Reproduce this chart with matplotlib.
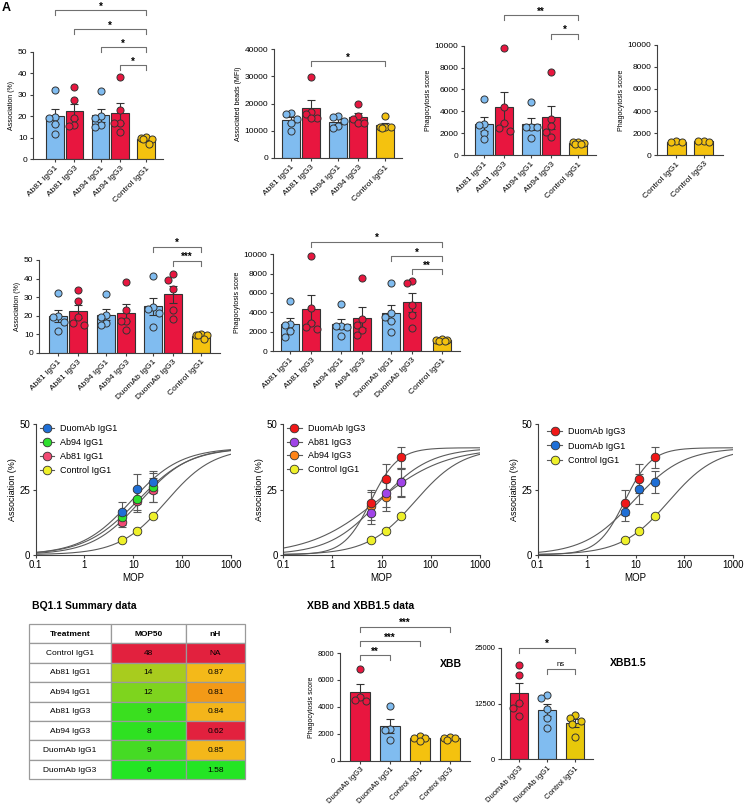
import numpy as np
import matplotlib.pyplot as plt
from matplotlib.patches import Rectangle
from matplotlib.lines import Line2D
from matplotlib.ticker import NullLocator

plt.rcParams['font.family'] = ['Liberation Sans', 'DejaVu Sans']
plt.rcParams['axes.linewidth'] = 0.8

W, H = 744, 806
fig = plt.figure(figsize=(W / 100, H / 100), dpi=100)

BLUE = '#80BCF0'
RED = '#E8163F'
GOLD = '#F4C20F'
EDGE = '#333333'
AXC = '#404040'
BRK = '#707070'

# ---- top row: BQ1.1 bar data (individual donors) ----
top_labels = ['Ab81 IgG1', 'Ab81 IgG3', 'Ab94 IgG1', 'Ab94 IgG3', 'Control IgG1']
top_colors = [BLUE, RED, BLUE, RED, GOLD]
assoc_pts = [[32.3, 19.8, 19.2, 16.4, 11.7],
             [33.6, 27.7, 19.1, 15.8, 15.2],
             [31.7, 20.3, 19.2, 15.9, 14.8],
             [38.4, 23.0, 17.0, 17.0, 12.5],
             [10.2, 9.6, 9.4, 9.3, 7.2]]
beads_pts = [[16500, 16100, 14300, 12800, 10000],
             [29700, 16800, 16000, 14800, 14500],
             [15500, 15000, 13600, 11800, 11000],
             [19900, 15500, 14300, 12800, 12800],
             [15300, 11500, 11400, 11200, 11000]]
phago_pts = [[5150, 2800, 2700, 2050, 1430],
             [9820, 4420, 2900, 2500, 2230],
             [4820, 2600, 2600, 2530, 1520],
             [7560, 3300, 2650, 2130, 1680],
             [1200, 1150, 1100, 1050, 1000]]
ctrl_labels = ['Control IgG1', 'Control IgG3']
ctrl_pts = [[1250, 1200, 1200], [1250, 1250, 1200]]

# ---- second row: with DuomAb ----
row2_labels = ['Ab81 IgG1', 'Ab81 IgG3', 'Ab94 IgG1', 'Ab94 IgG3',
               'DuomAb IgG1', 'DuomAb IgG3', 'Control IgG1']
row2_colors = [BLUE, RED, BLUE, RED, BLUE, RED, GOLD]
duo_assoc_pts = [[41.4, 24.5, 23.7, 21.6, 14.0],
                 [42.4, 39.2, 34.5, 23.0, 18.0]]
duo_phago_pts = [[7070, 3900, 3550, 3100, 2000],
                 [7280, 7070, 4760, 3700, 2350]]

# ---- third row: association vs MOP ----
mop = [6, 12, 25]
duo_g1 = [16.5, 25.1, 27.9]
duo_g1_err = [3.7, 5.8, 4.3]
ab94_g1 = [14.3, 21.3, 25.8]
ab94_g1_err = [3.0, 4.2, 5.5]
ab81_g1 = [12.7, 20.4, 24.9]
ab81_g1_err = [2.2, 4.0, 4.6]
ctrl_g1 = [5.8, 9.2, 14.8]
ctrl_g1_err = [0.5, 0.7, 0.9]
duo_g3 = [20.0, 29.2, 37.3]
duo_g3_err = [4.7, 5.5, 4.1]
ab81_g3 = [16.1, 23.5, 27.8]
ab81_g3_err = [4.5, 5.3, 5.2]
ab94_g3 = [18.7, 22.3, 27.8]
ab94_g3_err = [5.5, 5.5, 5.5]

# ---- summary table ----
table_treat = ['Control IgG1', 'Ab81 IgG1', 'Ab94 IgG1', 'Ab81 IgG3',
               'Ab94 IgG3', 'DuomAb IgG1', 'DuomAb IgG3']
table_mop50 = ['48', '14', '12', '9', '8', '9', '6']
table_nh = ['NA', '0.87', '0.81', '0.84', '0.62', '0.85', '1.58']
mop50_colors = ['#E2213E', '#A8CC1E', '#7ED41E', '#3ADF1F', '#2EE121', '#45DB24', '#24E524']
nh_colors = ['#E2213E', '#F4B919', '#F39A17', '#F4B51A', '#E2213E', '#F4B71A', '#24E524']
fit_top = 41.0
ctrl_fit_nh = 0.9  # slope used for the control curve (NA in table)

# ---- XBB / XBB1.5 ----
xbb_labels = ['DuomAb IgG3', 'DuomAb IgG1', 'Control IgG1', 'Control IgG3']
xbb_colors = [RED, BLUE, GOLD, GOLD]
xbb_pts = [[6790, 4700, 4500, 4450],
           [4050, 2330, 2250, 1570],
           [1800, 1700, 1650, 1450],
           [1750, 1700, 1650, 1550]]
xbb15_labels = ['DuomAb IgG3', 'DuomAb IgG1', 'Control IgG1']
xbb15_colors = [RED, BLUE, '#E8C80A']
xbb15_pts = [[21100, 18900, 12700, 11600, 9700],
             [14300, 13650, 11200, 9300, 7100],
             [9920, 9250, 8650, 7900, 5070]]


def px_axes(x0, y0, x1, y1):
    # rectangle given in figure pixels, y from the top
    return fig.add_axes([x0 / W, 1 - y1 / H, (x1 - x0) / W, (y1 - y0) / H])


def style(ax, fs):
    for s in ['top', 'right']:
        ax.spines[s].set_visible(False)
    for s in ['left', 'bottom']:
        ax.spines[s].set_color(AXC)
    ax.tick_params(length=2.5, width=0.8, color=AXC, labelsize=fs, pad=1.5)


def swarm_offsets(vals, ypx, d=5.5, gap=6.6):
    placed, offs = [], []
    for v in sorted(vals, reverse=True):
        y = v * ypx
        best, best_dist = 0.0, -1
        for cand in [0.0, -d, d, -d / 2, d / 2]:
            dist = min([np.hypot(cand - px, y - py) for px, py in placed] or [99])
            if dist >= gap:
                best = cand
                break
            if dist > best_dist:
                best, best_dist = cand, dist
        placed.append((best, y))
        offs.append((best, v))
    return offs


def bar_panel(rect, xlim, pos, groups, colors, labels, ymax, ystep, ylabel,
              width, fs=6, lfs=5):
    ax = px_axes(*rect)
    ax.set_xlim(*xlim)
    ax.set_ylim(0, ymax)
    ypx = ax.bbox.height / ymax
    xpx = ax.bbox.width / (xlim[1] - xlim[0])
    means = [np.mean(g) for g in groups]
    sems = [np.std(g, ddof=1) / np.sqrt(len(g)) for g in groups]
    ax.bar(pos, means, width, color=colors, edgecolor=EDGE, linewidth=0.8, zorder=2)
    ax.errorbar(pos, means, yerr=sems, fmt='none', ecolor=EDGE, elinewidth=0.8,
                capsize=2.6, capthick=0.8, zorder=3)
    for p, g, c in zip(pos, groups, colors):
        offs = swarm_offsets(g, ypx)
        xs = [p + o / xpx for o, v in offs]
        ys = [v for o, v in offs]
        ax.scatter(xs, ys, s=26, color=c, edgecolor=EDGE, linewidth=0.7,
                   zorder=4, clip_on=False)
    ax.set_yticks(np.arange(0, ymax + 1, ystep))
    ax.set_xticks(pos)
    ax.set_xticklabels(labels, rotation=45, ha='right', rotation_mode='anchor')
    style(ax, fs)
    ax.set_ylabel(ylabel, fontsize=lfs, labelpad=2)
    return ax


def bracket(ax, x1, x2, y, text, fs=7, bold=True):
    y0, y1 = ax.get_ylim()
    tip = 5 * (y1 - y0) / ax.bbox.height
    ax.plot([x1, x1, x2, x2], [y - tip, y, y, y - tip], color=BRK, lw=0.8,
            clip_on=False, zorder=5)
    ax.annotate(text, ((x1 + x2) / 2, y), xytext=(0, -1 if bold else 0.5),
                textcoords='offset points', ha='center', va='bottom',
                fontsize=fs, fontweight='bold' if bold else 'normal',
                annotation_clip=False)


def hill(x, ec50, nh):
    return fit_top * x ** nh / (ec50 ** nh + x ** nh)


fit = {t: (float(m), (ctrl_fit_nh if h == 'NA' else float(h)))
       for t, m, h in zip(table_treat, table_mop50, table_nh)}


def curve_panel(rect, series, leg_anchor, leg_space):
    ax = px_axes(*rect)
    ax.set_xscale('log')
    ax.set_xlim(0.1, 1000)
    ax.set_ylim(0, 50)
    xx = np.logspace(-1, 3, 300)
    for name, vals, err, c in series:
        ax.plot(xx, hill(xx, *fit[name]), color='#5a5a5a', lw=0.8, zorder=2)
    for name, vals, err, c in series:
        ax.errorbar(mop, vals, yerr=err, fmt='none', ecolor='#5a5a5a',
                    elinewidth=0.8, capsize=2.6, capthick=0.8, zorder=3)
    for name, vals, err, c in series[::-1]:
        ax.plot(mop, vals, 'o', ms=6.2, mfc=c, mec=EDGE, mew=0.6, zorder=4,
                clip_on=False)
    ax.set_xticks([0.1, 1, 10, 100, 1000])
    ax.set_xticklabels(['0.1', '1', '10', '100', '1000'])
    ax.xaxis.set_minor_locator(NullLocator())
    ax.set_yticks([0, 25, 50])
    style(ax, 7)
    ax.set_xlabel('MOP', fontsize=7, labelpad=2)
    ax.set_ylabel('Association (%)', fontsize=6.5, labelpad=2)
    handles = [Line2D([0], [0], color='#5a5a5a', lw=0.8, marker='o', ms=6.2,
                      mfc=c, mec=EDGE, mew=0.6) for name, vals, err, c in series]
    ax.legend(handles, [s[0] for s in series], loc='upper left',
              bbox_to_anchor=leg_anchor, frameon=False, fontsize=6.5,
              handlelength=1.6, handletextpad=0.7, labelspacing=leg_space,
              borderaxespad=0, borderpad=0)
    return ax


# panel letter
fig.text(2 / W, 1 - 8 / H, 'A', fontsize=9, fontweight='bold', va='center')

# ---- row 1 ----
pos5 = [0, 1, 2.35, 3.35, 4.7]
ax1 = bar_panel((33, 52, 163, 159), (-1.13, 5.57), pos5, assoc_pts, top_colors,
                top_labels, 50, 10, 'Association (%)', 0.9)
bracket(ax1, pos5[0], pos5[4], 69.6, '*')
bracket(ax1, pos5[1], pos5[4], 60.7, '*')
bracket(ax1, pos5[2], pos5[4], 52.3, '*')
bracket(ax1, pos5[3], pos5[4], 43.9, '*')

ax2 = bar_panel((274, 49, 402, 158), (-0.85, 5.55), pos5, beads_pts, top_colors,
                top_labels, 40000, 10000, 'Associated beads (MFI)', 0.86)
bracket(ax2, pos5[1], pos5[4], 35600, '*')

ax3 = bar_panel((464, 45.7, 596, 155), (-1.0, 5.6), pos5, phago_pts, top_colors,
                top_labels, 10000, 2000, 'Phagocytosis score', 0.86)
bracket(ax3, pos5[1], pos5[4], 12780, '**')
bracket(ax3, pos5[3], pos5[4], 11100, '*')

ax4 = bar_panel((657, 45, 723, 155), (-0.68, 1.68), [0, 1], ctrl_pts,
                [GOLD, GOLD], ctrl_labels, 10000, 2000, 'Phagocytosis score', 0.68)

# ---- row 2 ----
pos7 = [0, 1, 2.4, 3.4, 4.75, 5.75, 7.15]
ax5 = bar_panel((39, 260, 220, 352.7), (-0.95, 8.1), pos7,
                assoc_pts[:4] + duo_assoc_pts + [assoc_pts[4]], row2_colors,
                row2_labels, 50, 10, 'Association (%)', 0.86)
bracket(ax5, pos7[4], pos7[6], 57.2, '*')
bracket(ax5, pos7[5], pos7[6], 49.5, '***')

ax6 = bar_panel((273, 254.3, 460, 351), (-0.8, 8.0), pos7,
                phago_pts[:4] + duo_phago_pts + [phago_pts[4]], row2_colors,
                row2_labels, 10000, 2000, 'Phagocytosis score', 0.85)
bracket(ax6, pos7[1], pos7[6], 11300, '*')
bracket(ax6, pos7[4], pos7[6], 9820, '*')
bracket(ax6, pos7[5], pos7[6], 8450, '**')

# ---- row 3 ----
curve_panel((35.7, 424.3, 230.7, 554.7),
            [('DuomAb IgG1', duo_g1, duo_g1_err, '#1F6FD6'),
             ('Ab94 IgG1', ab94_g1, ab94_g1_err, '#2EE02E'),
             ('Ab81 IgG1', ab81_g1, ab81_g1_err, '#F24A74'),
             ('Control IgG1', ctrl_g1, ctrl_g1_err, '#EEF02A')],
            (0.02, 1.0), 0.55)
curve_panel((283.3, 424.3, 480, 554.7),
            [('DuomAb IgG3', duo_g3, duo_g3_err, '#F01818'),
             ('Ab81 IgG3', ab81_g3, ab81_g3_err, '#A044E8'),
             ('Ab94 IgG3', ab94_g3, ab94_g3_err, '#FF8418'),
             ('Control IgG1', ctrl_g1, ctrl_g1_err, '#EEF02A')],
            (0.02, 1.0), 0.5)
curve_panel((537.7, 424.3, 733.3, 554.7),
            [('DuomAb IgG3', duo_g3, duo_g3_err, '#F01818'),
             ('DuomAb IgG1', duo_g1, duo_g1_err, '#1F6FD6'),
             ('Control IgG1', ctrl_g1, ctrl_g1_err, '#EEF02A')],
            (0.05, 0.98), 0.62)

# ---- table ----
tab = fig.add_axes([0, 0, 1, 1], zorder=-1)
tab.set_xlim(0, W)
tab.set_ylim(H, 0)
tab.axis('off')
col_x = [29, 111, 186, 245]
row_h = 19.4
row_top = 624
tab.text(32, 606, 'BQ1.1 Summary data', fontsize=7.5, fontweight='bold', va='center')
header = ['Treatment', 'MOP50', 'nH']
rows = [header] + [list(r) for r in zip(table_treat, table_mop50, table_nh)]
for i, r in enumerate(rows):
    y = row_top + i * row_h
    fills = ['white', 'white', 'white'] if i == 0 else ['white', mop50_colors[i - 1], nh_colors[i - 1]]
    for j in range(3):
        tab.add_patch(Rectangle((col_x[j], y), col_x[j + 1] - col_x[j], row_h,
                                facecolor=fills[j], edgecolor='#9a9a9a', lw=0.9))
        tab.text((col_x[j] + col_x[j + 1]) / 2, y + row_h / 2 + 0.5, r[j],
                 ha='center', va='center', fontsize=6,
                 fontweight='bold' if i == 0 else 'normal')

tab.text(307, 606, 'XBB and XBB1.5 data', fontsize=7.5, fontweight='bold', va='center')

# ---- XBB ----
ax7 = bar_panel((340, 653, 470, 760.7), (-0.67, 3.67), [0, 1, 2, 3], xbb_pts,
                xbb_colors, xbb_labels, 8000, 2000, 'Phagocytosis score', 0.67,
                fs=5.5, lfs=5)
bracket(ax7, 0, 1, 7850, '**')
bracket(ax7, 0, 2, 8890, '***')
bracket(ax7, 0, 3, 9950, '***')
ax7.text(0.85, 0.9, 'XBB', transform=ax7.transAxes, fontsize=7.5,
         fontweight='bold', ha='center', va='center')

ax8 = bar_panel((500.7, 647.7, 593, 759.3), (-0.65, 2.64), [0, 1, 2], xbb15_pts,
                xbb15_colors, xbb15_labels, 25000, 12500, '', 0.65, fs=5.5)
bracket(ax8, 0, 2, 25000, '*')
bracket(ax8, 1, 2, 20230, 'ns', fs=5.5, bold=False)
fig.text(610 / W, 1 - 663 / H, 'XBB1.5', fontsize=7.5, fontweight='bold',
         ha='left', va='center')

fig.savefig('out.png', dpi=100)
